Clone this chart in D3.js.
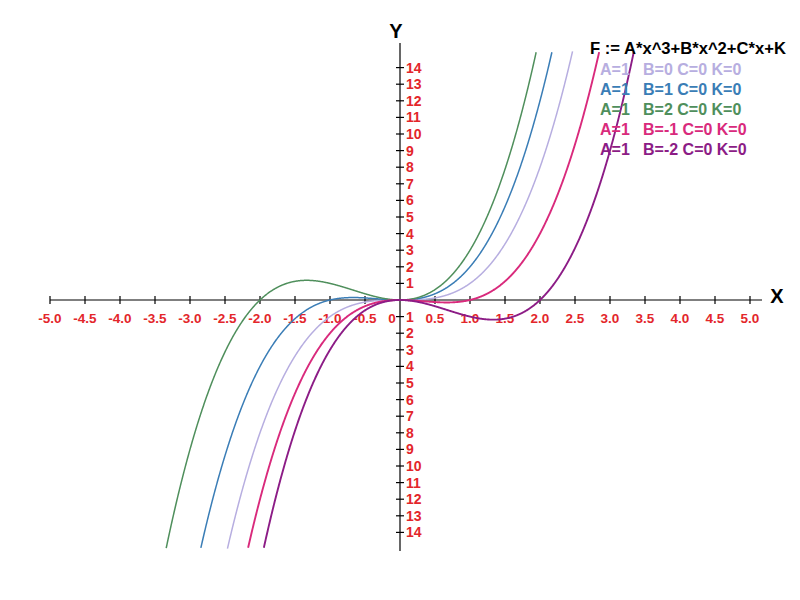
<!DOCTYPE html>
<html><head><meta charset="utf-8">
<script src="https://cdn.jsdelivr.net/npm/d3@7"></script>
<style>body{margin:0;background:#fff}svg{display:block}text{font-family:"Liberation Sans",Arial,sans-serif}</style>
</head><body>
<svg id="c" width="800" height="600"></svg>
<script>
// Coefficients of F := A*x^3+B*x^2+C*x+K for each curve
const coefA = [1, 1, 1, 1, 1];
const coefB = [0, 1, 2, -1, -2];
const coefC = [0, 0, 0, 0, 0];
const coefK = [0, 0, 0, 0, 0];
const curveColors = ["#b7aee0", "#3a7db6", "#4f8f5c", "#d92a7c", "#8c1c86"];
const legendA = ["A=1", "A=1", "A=1", "A=1", "A=1"];
const legendRest = ["B=0 C=0 K=0", "B=1 C=0 K=0", "B=2 C=0 K=0", "B=-1 C=0 K=0", "B=-2 C=0 K=0"];
const xTicks = [-5,-4.5,-4,-3.5,-3,-2.5,-2,-1.5,-1,-0.5,0,0.5,1,1.5,2,2.5,3,3.5,4,4.5,5];
const yTicks = [-14,-13,-12,-11,-10,-9,-8,-7,-6,-5,-4,-3,-2,-1,1,2,3,4,5,6,7,8,9,10,11,12,13,14];
const yClip = 15;

const svg = d3.select("#c");
const x = d3.scaleLinear().domain([-5, 5]).range([50, 750]);
const y = d3.scaleLinear().domain([-15, 15]).range([549, 51]);
const red = "#e3262b";

// axes
svg.append("line").attr("x1", 50).attr("x2", 762).attr("y1", y(0)).attr("y2", y(0)).attr("stroke", "#000").attr("stroke-width", 1.2);
svg.append("line").attr("x1", x(0)).attr("x2", x(0)).attr("y1", 43).attr("y2", 551).attr("stroke", "#000").attr("stroke-width", 1.2);

xTicks.forEach(v => {
  if (v !== 0) svg.append("line").attr("x1", x(v)).attr("x2", x(v)).attr("y1", y(0) - 4).attr("y2", y(0) + 4).attr("stroke", "#000").attr("stroke-width", 1.2);
  svg.append("text").attr("x", v === 0 ? x(0) - 8 : x(v)).attr("y", y(0) + 23)
    .attr("text-anchor", "middle").attr("fill", red).attr("font-size", 13.5).attr("font-weight", "bold")
    .text(v === 0 ? "0" : v.toFixed(1));
});
yTicks.forEach(v => {
  svg.append("line").attr("x1", x(0) - 4).attr("x2", x(0) + 4).attr("y1", y(v)).attr("y2", y(v)).attr("stroke", "#000").attr("stroke-width", 1.2);
  svg.append("text").attr("x", x(0) + 6).attr("y", y(v) + 5)
    .attr("fill", red).attr("font-size", 14).attr("font-weight", "bold")
    .text(Math.abs(v));
});
svg.append("text").attr("x", x(0) - 4).attr("y", 38).attr("text-anchor", "middle").attr("font-size", 20).attr("font-weight", "bold").text("Y");
svg.append("text").attr("x", 777).attr("y", 303).attr("text-anchor", "middle").attr("font-size", 20).attr("font-weight", "bold").text("X");

// curves
const xs = d3.range(-5, 5.0001, 0.005);
const line = d3.line().defined(d => Math.abs(d[1]) <= yClip).x(d => x(d[0])).y(d => y(d[1]));
coefB.forEach((b, i) => {
  const pts = xs.map(t => [t, coefA[i]*t*t*t + b*t*t + coefC[i]*t + coefK[i]]);
  svg.append("path").attr("d", line(pts)).attr("fill", "none").attr("stroke", curveColors[i]).attr("stroke-width", i >= 3 ? 1.9 : 1.5);
});

// legend
svg.append("text").attr("x", 590).attr("y", 54).attr("font-size", 16.6).attr("font-weight", "bold").attr("fill", "#000").text("F := A*x^3+B*x^2+C*x+K");
legendA.forEach((t, i) => {
  const g = svg.append("text").attr("y", 75 + i * 20).attr("font-size", 16).attr("font-weight", "bold").attr("fill", curveColors[i]);
  g.append("tspan").attr("x", 600).text(t);
  g.append("tspan").attr("x", 643).text(legendRest[i]);
});
</script>
</body></html>
